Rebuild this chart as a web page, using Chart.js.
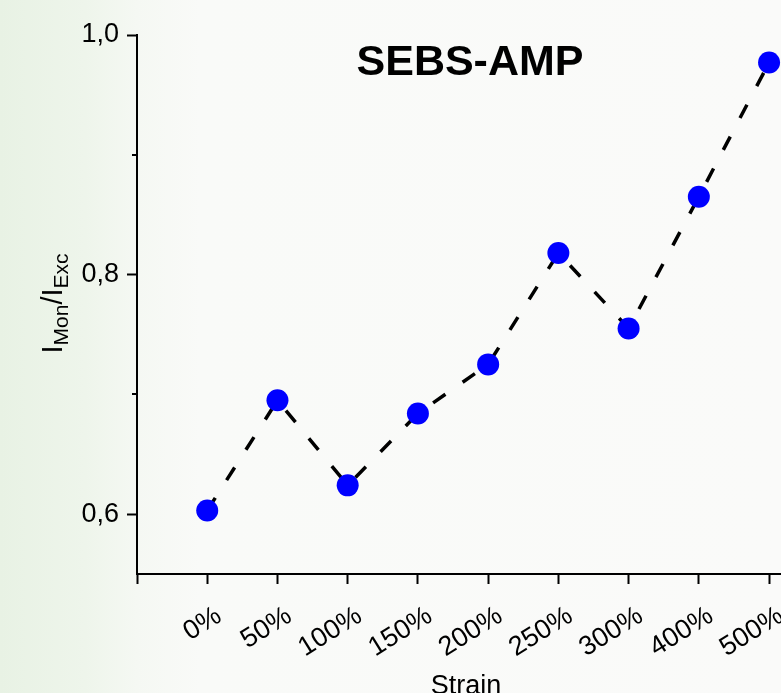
<!DOCTYPE html>
<html>
<head>
<meta charset="utf-8">
<script src="https://cdn.jsdelivr.net/npm/chart.js@4.4.1/dist/chart.umd.min.js"></script>
<style>
  html, body { margin: 0; padding: 0; overflow: hidden; }
  body {
    width: 781px; height: 693px;
    background: linear-gradient(to right, #e8f2e4 0px, #eef5eb 85px, #f5f8f3 137px, #f9faf8 200px, #fafaf9 100%);
  }
  #wrap { position: relative; width: 781px; height: 693px; }
</style>
</head>
<body>
<div id="wrap"><canvas id="myChart"></canvas></div>
<script>
// data
var strains = ['0%', '50%', '100%', '150%', '200%', '250%', '300%', '400%', '500%'];
var ratios = [0.603, 0.695, 0.624, 0.684, 0.725, 0.818, 0.755, 0.865, 0.977];
var yTicks = [0.6, 0.7, 0.8, 0.9, 1.0];
var yLabels = ['0,6', '', '0,8', '', '1,0'];
var chartTitle = 'SEBS-AMP';
var xTitle = 'Strain';

var points = [];
for (var i = 0; i < strains.length; i++) {
  points.push({ x: i, y: ratios[i] });
}

var FONT = '"Liberation Sans", Arial, Helvetica, sans-serif';

// texts and minor ticks
var extras = {
  id: 'extras',
  afterDraw: function(chart) {
    var c = chart.ctx;
    var area = chart.chartArea;
    var y = chart.scales.y;
    c.save();

    // minor ticks
    c.strokeStyle = '#000';
    c.lineWidth = 2;
    for (var i = 0; i < yTicks.length; i++) {
      if (yLabels[i] !== '') continue;
      var py = Math.round(y.getPixelForValue(yTicks[i]));
      c.beginPath();
      c.moveTo(area.left - 5, py);
      c.lineTo(area.left, py);
      c.stroke();
    }

    // title inside the plot
    c.fillStyle = '#000';
    c.font = 'bold 43px ' + FONT;
    c.textAlign = 'center';
    c.textBaseline = 'alphabetic';
    c.fillText(chartTitle, area.left + (area.right - area.left) / 2 + 11, area.top + 40);

    // x title
    c.font = '27px ' + FONT;
    c.fillText(xTitle, area.left + (area.right - area.left) / 2 + 7, chart.height + 1);

    // y title with subscripts
    var parts = [
      { t: 'I', size: 29, dy: 0 },
      { t: 'Mon', size: 21, dy: 6 },
      { t: '/I', size: 29, dy: 0 },
      { t: 'Exc', size: 21, dy: 6 }
    ];
    var total = 0;
    for (var k = 0; k < parts.length; k++) {
      c.font = parts[k].size + 'px ' + FONT;
      parts[k].w = c.measureText(parts[k].t).width;
      total += parts[k].w;
    }
    c.translate(62, area.top + (area.bottom - area.top) / 2 - 1);
    c.rotate(-Math.PI / 2);
    c.textAlign = 'left';
    var xx = -total / 2;
    for (var k = 0; k < parts.length; k++) {
      c.font = parts[k].size + 'px ' + FONT;
      c.fillText(parts[k].t, xx, parts[k].dy);
      xx += parts[k].w;
    }
    c.restore();
  }
};

var ctx = document.getElementById('myChart').getContext('2d');
var chart = new Chart(ctx, {
  type: 'line',
  data: {
    datasets: [{
      data: points,
      borderColor: '#000',
      borderWidth: 3.5,
      borderDash: [15, 21],
      pointRadius: 11,
      pointHoverRadius: 11,
      pointBackgroundColor: '#0000ff',
      pointBorderWidth: 0,
      tension: 0,
      clip: false
    }]
  },
  options: {
    responsive: true,
    maintainAspectRatio: false,
    animation: false,
    layout: { padding: { top: 35, right: 0, left: 0, bottom: 0 }, autoPadding: false },
    plugins: {
      legend: { display: false },
      tooltip: { enabled: false }
    },
    scales: {
      x: {
        type: 'linear',
        min: -1,
        max: 8.17,
        afterBuildTicks: function(scale) {
          var t = [];
          for (var i = -1; i < strains.length; i++) t.push({ value: i });
          scale.ticks = t;
        },
        afterFit: function(scale) {
          scale.height = 119;
          scale.paddingLeft = 0;
          scale.paddingRight = 0;
        },
        border: { color: '#000', width: 2 },
        grid: { drawOnChartArea: false, tickLength: 10, tickWidth: 2, tickColor: '#000' },
        ticks: {
          color: '#000',
          font: { size: 27, family: FONT },
          minRotation: 32,
          maxRotation: 32,
          padding: 16,
          labelOffset: 12,
          autoSkip: false,
          callback: function(v) { return strains[v] !== undefined ? strains[v] : ''; }
        }
      },
      y: {
        min: 0.55,
        max: 1.0,
        afterBuildTicks: function(scale) {
          scale.ticks = yTicks.map(function(v) { return { value: v }; });
        },
        afterFit: function(scale) { scale.width = 137; },
        border: { color: '#000', width: 2 },
        grid: {
          drawOnChartArea: false,
          tickLength: 10,
          tickWidth: 2,
          tickColor: function(c) {
            var idx = yTicks.indexOf(c.tick ? c.tick.value : -1);
            return (idx >= 0 && yLabels[idx] === '') ? 'rgba(0,0,0,0)' : '#000';
          }
        },
        ticks: {
          color: '#000',
          font: { size: 27, family: FONT },
          padding: 8,
          callback: function(v) {
            var idx = yTicks.indexOf(Math.round(v * 10) / 10);
            return idx >= 0 ? yLabels[idx] : '';
          }
        }
      }
    }
  },
  plugins: [extras]
});
</script>
</body>
</html>
